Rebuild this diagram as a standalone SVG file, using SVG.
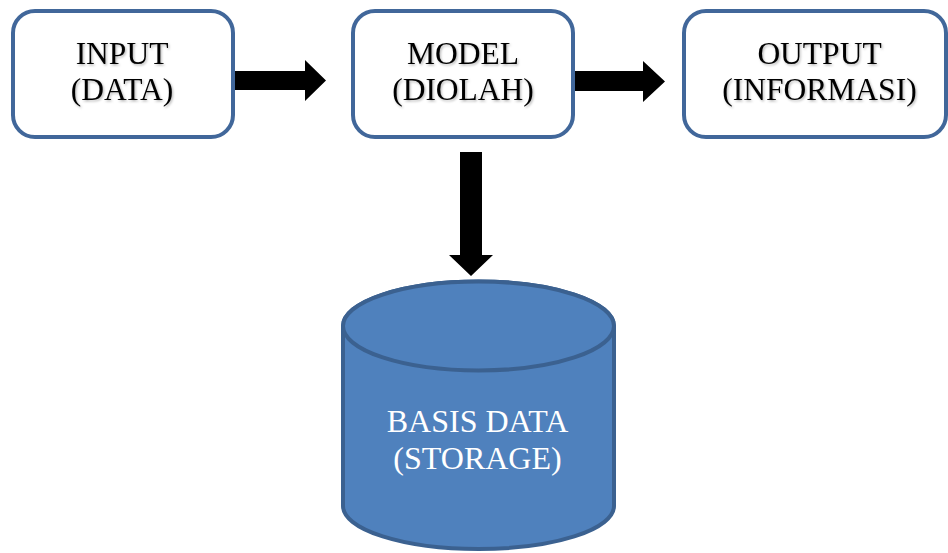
<svg xmlns="http://www.w3.org/2000/svg" width="948" height="553" viewBox="0 0 948 553">
  <defs>
    <filter id="txtShadow" x="-10%" y="-20%" width="120%" height="150%">
      <feDropShadow dx="1.2" dy="1.5" stdDeviation="0.8" flood-color="#000" flood-opacity="0.28"/>
    </filter>
  </defs>
  <style>
    .box { fill: #ffffff; stroke: #41679a; stroke-width: 4; }
    .label { font-family: "Liberation Serif", "Times New Roman", serif; font-size: 31.5px; fill: #000; text-anchor: middle; }
    .db { fill: #4f81bd; stroke: #3b6190; stroke-width: 4; }
    .dblabel { font-family: "Liberation Serif", "Times New Roman", serif; font-size: 32px; fill: #ffffff; text-anchor: middle; }
    .arrow { fill: #000; }
  </style>

  <g id="connectors">
    <!-- input -> model -->
    <polygon class="arrow" points="232,71 305,71 305,60 326,80.5 305,101 305,90 232,90"/>
    <!-- model -> output -->
    <polygon class="arrow" points="570,71 643,71 643,61 665,81.5 643,102 643,91 570,91"/>
    <!-- model -> storage -->
    <polygon class="arrow" points="460,152 482,152 482,255 493,255 471,276 449,255 460,255"/>
  </g>

  <g id="input">
    <rect class="box" x="13" y="11" width="220" height="126" rx="22" ry="22"/>
    <g filter="url(#txtShadow)">
      <text class="label" x="122" y="64">INPUT</text>
      <text class="label" x="122" y="100">(DATA)</text>
    </g>
  </g>

  <g id="model">
    <rect class="box" x="353" y="11" width="220" height="126" rx="22" ry="22"/>
    <g filter="url(#txtShadow)">
      <text class="label" x="463" y="64">MODEL</text>
      <text class="label" x="463" y="100">(DIOLAH)</text>
    </g>
  </g>

  <g id="output">
    <rect class="box" x="684" y="11" width="262" height="126" rx="22" ry="22"/>
    <g filter="url(#txtShadow)">
      <text class="label" x="819.5" y="64">OUTPUT</text>
      <text class="label" x="819.5" y="100">(INFORMASI)</text>
    </g>
  </g>

  <g id="storage">
    <path class="db" d="M343,326 L343,506 A135.5,43 0 0 0 614,506 L614,326 A135.5,44.5 0 0 0 343,326 Z"/>
    <ellipse class="db" cx="478.5" cy="326" rx="135.5" ry="44.5"/>
    <text class="dblabel" x="477.5" y="432">BASIS DATA</text>
    <text class="dblabel" x="477.5" y="469">(STORAGE)</text>
  </g>
</svg>
